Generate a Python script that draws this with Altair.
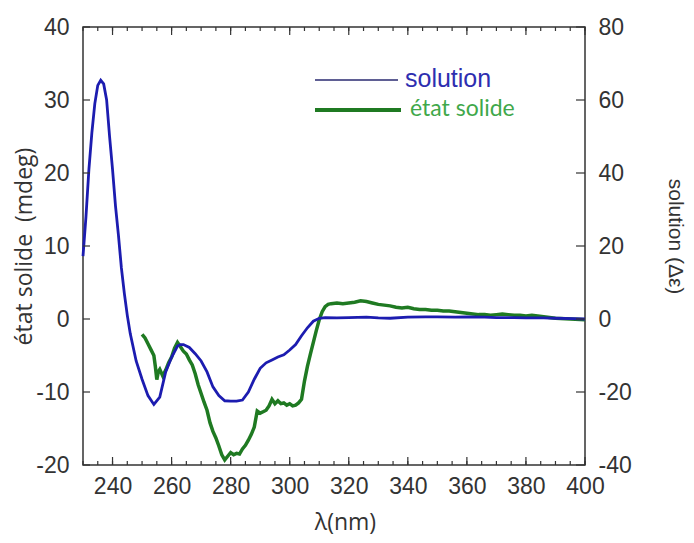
import altair as alt
import pandas as pd

# ---- data ----
blue_nm = [230, 231, 232, 233, 234, 235, 236, 237, 238, 239, 240, 241, 242, 243, 244, 245, 246, 248, 250, 252,
           254, 256, 258, 260, 262, 263, 264, 266, 268, 270, 272, 274, 276, 278, 280, 282, 284, 286, 288, 290,
           292, 294, 296, 298, 300, 302, 304, 306, 308, 310, 312, 316, 320, 326, 330, 334, 340, 346, 350, 356,
           360, 366, 370, 376, 380, 386, 390, 396, 400]
blue_de = [17.2, 28, 41, 51, 59, 64, 65.4, 64.4, 60, 50, 41, 31, 23, 14, 7, 1, -4, -11.5, -16.5, -21,
           -23.4, -21.4, -14.5, -10.5, -7.4, -7, -7, -7.8, -9.5, -11.5, -14.5, -18.6, -21, -22.4, -22.5, -22.5, -22.2, -20, -16.5, -13.5,
           -12, -11.2, -10.4, -9.8, -8.5, -7, -4.6, -2.4, -0.6, 0.2, 0.4, 0.3, 0.4, 0.5, 0.3, 0.2, 0.5, 0.6, 0.6, 0.5,
           0.6, 0.5, 0.4, 0.4, 0.3, 0.3, 0.2, 0.1, 0.0]

green_nm = [250, 251, 252, 253, 254, 254.5, 255, 255.5, 256, 257, 258, 259, 260, 261, 262, 263, 264, 265, 266, 267,
            268, 269, 270, 271, 272, 273, 274, 275, 276, 277, 278, 279, 280, 281, 282, 283, 284, 285, 286, 287,
            288, 289, 290, 291, 292, 293, 294, 295, 296, 297, 298, 299, 300, 301, 302, 303, 304, 305, 306, 307,
            308, 309, 310, 311, 312, 313, 314, 316, 318, 320, 322, 324, 326, 328, 330, 332, 334, 336, 338, 340,
            342, 344, 346, 348, 350, 352, 354, 356, 358, 360, 362, 364, 366, 368, 370, 372, 374, 376, 378, 380,
            382, 384, 386, 388, 390, 395, 400]
green_mdeg = [-2.1, -2.6, -3.4, -4.2, -5.0, -6.5, -8.3, -7.2, -6.9, -7.8, -7.0, -6.0, -5.2, -4.0, -3.2, -3.8, -4.4, -4.8, -5.6, -6.3,
              -7.5, -9.0, -10.2, -11.4, -12.5, -14.2, -15.4, -16.3, -17.4, -18.6, -19.3, -18.8, -18.3, -18.6, -18.4, -18.5, -17.8, -17.3, -16.6, -15.8,
              -14.8, -12.6, -12.9, -12.7, -12.5, -11.9, -11.0, -11.6, -11.2, -11.6, -11.5, -11.8, -11.6, -11.9, -11.8, -11.5, -11.0, -8.5, -6.5, -4.8,
              -3.2, -1.6, -0.1, 1.0, 1.7, 2.0, 2.1, 2.2, 2.1, 2.2, 2.3, 2.5, 2.4, 2.2, 2.0, 1.9, 1.8, 1.6, 1.5, 1.6,
              1.4, 1.3, 1.3, 1.2, 1.2, 1.1, 1.1, 1.0, 0.9, 0.8, 0.7, 0.6, 0.6, 0.5, 0.6, 0.7, 0.6, 0.5, 0.5, 0.4,
              0.5, 0.4, 0.3, 0.2, 0.1, 0.0, -0.1]

x_ticks = [240, 260, 280, 300, 320, 340, 360, 380, 400]
x_minor = list(range(230, 401, 5))
left_ticks = [-20, -10, 0, 10, 20, 30, 40]
right_ticks = [-40, -20, 0, 20, 40, 60, 80]

series_names = ["solution", "état solide"]
x_title = "λ(nm)"
left_title = "état solide\u00a0 (mdeg)"
right_title = "solution (Δε)"

# ---- styling ----
W, H = 502, 438
BLUE = "#1c1cb0"
GREEN = "#1f7a22"
AXIS_C = "#333333"
NUM_FONT = "Liberation Sans"
HUM_FONT = "Open Sans"
HYPHEN = "replace(toString(datum.value), '\u2212', '-')"

xs = alt.Scale(domain=[230, 400], nice=False, zero=False)
yl = alt.Scale(domain=[-20, 40], nice=False, zero=False)
yr = alt.Scale(domain=[-40, 80], nice=False, zero=False)

green_df = pd.DataFrame({"nm": green_nm, "v": green_mdeg})
blue_df = pd.DataFrame({"nm": blue_nm, "v": blue_de})

green = alt.Chart(green_df).mark_line(color=GREEN, strokeWidth=3.5).encode(
    x=alt.X("nm:Q", scale=xs, axis=alt.Axis(
        values=x_ticks, title=x_title, ticks=False, domain=False, grid=False,
        labelFont=NUM_FONT, labelFontSize=23, labelColor=AXIS_C, labelPadding=10,
        labelFlush=False, labelExpr=HYPHEN,
        titleFont=HUM_FONT, titleFontSize=23, titleFontWeight="normal", titleColor=AXIS_C,
        titleX=262, titleY=57, titleBaseline="middle")),
    y=alt.Y("v:Q", scale=yl, axis=alt.Axis(
        values=left_ticks, title=left_title, ticks=False, domain=False, grid=False,
        labelFont=NUM_FONT, labelFontSize=23, labelColor=AXIS_C, labelPadding=14,
        labelFlush=False, labelExpr=HYPHEN,
        titleFont=HUM_FONT, titleFontSize=23, titleFontWeight="normal", titleColor=AXIS_C,
        titleAngle=-90, titleX=-59, titleY=219, titleAlign="center", titleBaseline="middle")),
)

blue = alt.Chart(blue_df).mark_line(color=BLUE, strokeWidth=2.8).encode(
    x=alt.X("nm:Q", scale=xs, axis=None),
    y=alt.Y("v:Q", scale=yr, axis=alt.Axis(
        orient="right", values=right_ticks, title=right_title, ticks=False, domain=False, grid=False,
        labelFont=NUM_FONT, labelFontSize=23, labelColor=AXIS_C, labelPadding=13,
        labelFlush=False, labelExpr=HYPHEN,
        titleFont=NUM_FONT, titleFontSize=21, titleFontWeight="normal", titleColor=AXIS_C,
        titleAngle=90, titleX=89, titleY=209, titleAlign="center", titleBaseline="middle")),
)

# inward tick marks drawn through the scales
def xtick_layer(vals, y0, y1):
    return alt.Chart(pd.DataFrame({"t": vals})).mark_rule(color=AXIS_C, strokeWidth=1.2).encode(
        x=alt.X("t:Q", scale=xs, axis=None), y=alt.value(y0), y2=alt.value(y1))

def ytick_layer(vals, scale, x0, x1):
    return alt.Chart(pd.DataFrame({"t": vals})).mark_rule(color=AXIS_C, strokeWidth=1.2).encode(
        y=alt.Y("t:Q", scale=scale, axis=None), x=alt.value(x0), x2=alt.value(x1))

ticks = [
    xtick_layer(x_ticks, H, H - 8), xtick_layer(x_minor, H, H - 4),
    xtick_layer(x_ticks, 0, 8), xtick_layer(x_minor, 0, 4),
    ytick_layer(left_ticks, yl, 0, 7), ytick_layer(right_ticks, yr, W, W - 9),
]

# legend (inside plot, top right)
leg_blue_line = alt.Chart(pd.DataFrame({"s": [series_names[0]]})).mark_rule(color="#2a2a70", strokeWidth=1.5).encode(
    x=alt.value(232), x2=alt.value(315), y=alt.value(53))
leg_green_line = alt.Chart(pd.DataFrame({"s": [series_names[1]]})).mark_rule(color=GREEN, strokeWidth=4).encode(
    x=alt.value(232), x2=alt.value(318), y=alt.value(83))
leg_blue_txt = alt.Chart(pd.DataFrame({"s": [series_names[0]]})).mark_text(
    font=NUM_FONT, fontSize=25, color="#2e2eb0", align="left", baseline="middle").encode(
    text="s:N", x=alt.value(322), y=alt.value(52))
leg_green_txt = alt.Chart(pd.DataFrame({"s": [series_names[1]]})).mark_text(
    font="Lato", fontSize=23, color="#3fa84a", align="left", baseline="middle").encode(
    text="s:N", x=alt.value(327), y=alt.value(82))

chart = alt.layer(green, blue, *ticks, leg_blue_line, leg_green_line, leg_blue_txt, leg_green_txt).resolve_scale(
    y="independent"
).resolve_axis(
    x="independent", y="independent"
).properties(
    width=W, height=H,
    autosize=alt.AutoSizeParams(type="none"),
    padding={"left": 75, "top": 19, "right": 101, "bottom": 78},
    background="white",
).configure_view(stroke=AXIS_C, strokeWidth=1.5)

chart.save("out.html", embed_options={"renderer": "svg", "actions": False})
